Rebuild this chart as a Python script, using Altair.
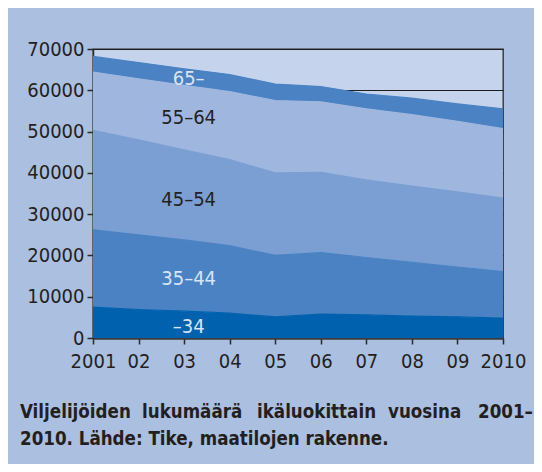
import altair as alt
import pandas as pd

years = [2001, 2002, 2003, 2004, 2005, 2006, 2007, 2008, 2009, 2010]
year_labels = ["2001", "02", "03", "04", "05", "06", "07", "08", "09", "2010"]

groups = ["–34", "35–44", "45–54", "55–64", "65–"]
v_34 = [7500, 6900, 6500, 6050, 5100, 5800, 5600, 5300, 5100, 4850]
v_35_44 = [18700, 18100, 17300, 16350, 14900, 14900, 13900, 13000, 12100, 11250]
v_45_54 = [24100, 23000, 21800, 20800, 20000, 19400, 18800, 18500, 18200, 17800]
v_55_64 = [14100, 14800, 15600, 16500, 17500, 17100, 17200, 17300, 17100, 16800]
v_65 = [3800, 3900, 4000, 4100, 4000, 3700, 3600, 4000, 4200, 4800]
series = [v_34, v_35_44, v_45_54, v_55_64, v_65]

area_colors = ["#0062ae", "#4a82c3", "#7b9fd3", "#9fb7df", "#4a82c3"]

label_year = [2003.1, 2003.1, 2003.1, 2003.1, 2003.1]
label_value = [2700, 14400, 33500, 53400, 62800]
label_colors = ["#dbe4f5", "#dbe4f5", "#222222", "#222222", "#dbe4f5"]

caption_line1_words = ["Viljelijöiden", "lukumäärä", "ikäluokittain", "vuosina", "2001–"]
caption_line2 = "2010. Lähde: Tike, maatilojen rakenne."

# layout (pixel offsets relative to the plot area)
word_x = [-73, 49, 164, 295, 385]
line_y = [369, 396]

FONT = "DejaVu Sans Condensed, Liberation Sans, Arial"
CAP_FONT = "DejaVu Sans Condensed, Liberation Sans, Arial"

rows = []
for i, (g, vals) in enumerate(zip(groups, series)):
    for yr, v in zip(years, vals):
        rows.append({"year": yr, "value": v, "group": g, "order": i})
df = pd.DataFrame(rows)

lab_df = pd.DataFrame({"year": label_year, "value": label_value,
                       "text": groups, "color": label_colors})

expr = "''"
for yv, yl in reversed(list(zip(years, year_labels))):
    expr = f"datum.value == {yv} ? '{yl}' : ({expr})"

x_enc = alt.X("year:Q",
              scale=alt.Scale(domain=[2001, 2010], nice=False, zero=False),
              axis=alt.Axis(values=years, labelExpr=expr, title=None,
                            grid=False, tickSize=6, tickColor="#2b2b2b",
                            tickWidth=1.5, domainColor="#3a3a3a",
                            domainWidth=2.5, labelFont=FONT, labelFontSize=20,
                            labelColor="#231f20", labelPadding=7,
                            labelOverlap=False, labelFlush=False))
y_enc = alt.Y("value:Q", stack="zero",
              scale=alt.Scale(domain=[0, 70000], nice=False),
              axis=alt.Axis(values=list(range(0, 70001, 10000)), format="d",
                            title=None, grid=True, gridColor="#1e1e1e",
                            gridWidth=1, tickSize=6, tickColor="#2b2b2b",
                            tickWidth=1.5, domainColor="#2b2b2b",
                            domainWidth=1.5, labelFont=FONT, labelFontSize=20,
                            labelColor="#231f20", labelPadding=3,
                            labelOverlap=False))

areas = alt.Chart(df).mark_area(
    line={"color": "#2b2b3a", "strokeWidth": 1.2}, opacity=1
).encode(
    x=x_enc,
    y=y_enc,
    color=alt.Color("group:N", scale=alt.Scale(domain=groups, range=area_colors),
                    legend=None),
    order=alt.Order("order:Q"),
)

labels = alt.Chart(lab_df).mark_text(font=FONT, fontSize=20, align="center",
                                     baseline="middle").encode(
    x=alt.X("year:Q"),
    y=alt.Y("value:Q"),
    text="text:N",
    color=alt.Color("color:N", scale=None),
)

cap_layers = []
for w, wx in zip(caption_line1_words, word_x):
    cap_layers.append(
        alt.Chart(pd.DataFrame({"text": [w]})).mark_text(
            font=CAP_FONT, fontSize=18.6, fontWeight="bold", align="left",
            baseline="alphabetic", color="#231f20"
        ).encode(x=alt.value(wx), y=alt.value(line_y[0]), text="text:N")
    )
cap_layers.append(
    alt.Chart(pd.DataFrame({"text": [caption_line2]})).mark_text(
        font=CAP_FONT, fontSize=18.6, fontWeight="bold", align="left",
        baseline="alphabetic", color="#231f20"
    ).encode(x=alt.value(word_x[0]), y=alt.value(line_y[1]), text="text:N")
)

chart = alt.layer(areas, labels, *cap_layers).properties(
    width=410, height=289,
    background="#abbfe1",
    autosize=alt.AutoSizeParams(type="none"),
    padding={"left": 85, "top": 41, "right": 31, "bottom": 126},
).configure_view(
    fill="#c6d3ec", stroke="#2b2b2b", strokeWidth=1.3
)

chart.save("out.html", embed_options={"renderer": "svg", "actions": False})
